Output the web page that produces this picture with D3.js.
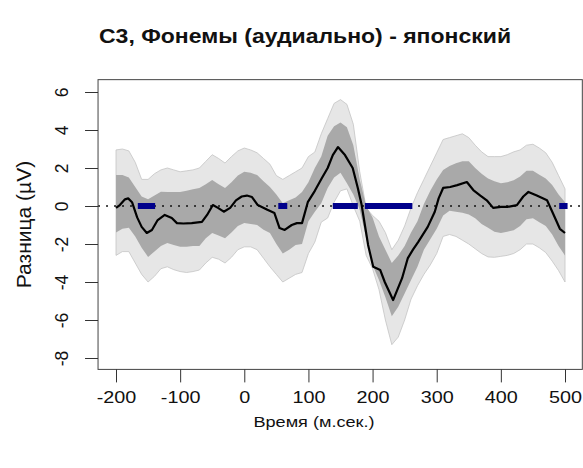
<!DOCTYPE html>
<html>
<head>
<meta charset="utf-8">
<script src="https://cdn.jsdelivr.net/npm/d3@7"></script>
<style>
  body { margin: 0; background: #fff; }
  text { font-family: "Liberation Sans", Arial, sans-serif; fill: #111; }
</style>
</head>
<body>
<div id="chart"></div>
<script>
// Mean difference curve (time in ms, value in µV)
const meanTime = [-200,-194,-186,-181,-175,-167,-160,-152,-144,-135,-124,-113,-105,-95,-82,-66,-58,-49,-41,-32,-22,-13,-4,4,12,21,36,47,55,63,74,82,90,99,110,121,130,138,146,157,169,177,183,188,193,201,212,219,232,246,255,263,271,286,297,303,310,321,332,347,357,368,378,388,400,410,425,435,443,456,472,481,492,500];
const meanValue = [-0.1,0.05,0.35,0.4,0.2,-0.6,-1.1,-1.42,-1.26,-0.74,-0.47,-0.63,-0.9,-0.92,-0.9,-0.84,-0.47,0.05,-0.1,-0.3,-0.1,0.3,0.5,0.55,0.47,0.05,-0.2,-0.37,-1.16,-1.26,-1.0,-0.9,-0.9,0.2,0.8,1.47,2.0,2.68,3.1,2.68,2.0,0.95,0.05,-1.0,-2.05,-3.2,-3.37,-4.0,-4.95,-3.8,-2.74,-2.3,-1.9,-1.1,-0.3,0.4,0.95,1.0,1.1,1.26,0.84,0.55,0.3,-0.1,-0.05,-0.05,0.05,0.5,0.74,0.55,0.3,-0.37,-1.2,-1.42];

// Confidence bands, sampled every 10 ms from -200 to 500
const bandTime = d3.range(-200, 501, 10);
const outerUpper = [2.95,3.0,2.9,2.3,1.4,1.4,1.7,1.9,2.0,1.9,1.8,1.85,1.9,2.0,2.35,2.7,2.5,2.26,2.6,2.9,3.05,2.95,2.8,2.5,2.2,1.6,1.4,1.6,1.8,2.0,2.6,2.84,3.8,4.6,5.4,5.6,5.35,4.3,1.8,-0.1,-0.5,-0.8,-1.4,-2.3,-1.8,-1.05,-0.1,0.7,1.4,2.1,2.8,3.5,3.6,3.7,3.8,3.6,3.2,2.85,2.6,2.6,2.6,2.7,2.85,2.95,3.2,3.25,3.05,2.8,2.3,1.6,0.9];
const outerLower = [-2.6,-2.4,-2.4,-3.0,-3.6,-4.0,-3.7,-3.3,-3.2,-3.35,-3.45,-3.5,-3.45,-3.37,-3.0,-2.7,-2.8,-3.0,-2.7,-2.3,-2.15,-2.15,-2.3,-2.75,-3.2,-3.6,-4.0,-3.8,-3.6,-3.5,-2.5,-1.9,-0.85,-0.63,0.2,0.8,0.9,0.0,-0.8,-2.6,-3.3,-4.4,-6.0,-7.3,-6.9,-6.0,-4.9,-4.2,-3.6,-3.1,-2.5,-1.6,-1.5,-1.6,-1.8,-2.0,-2.25,-2.5,-2.68,-2.7,-2.65,-2.6,-2.5,-2.3,-2.0,-2.0,-2.2,-2.45,-2.9,-3.4,-4.0];
const innerUpper = [1.63,1.63,1.5,1.0,0.5,0.35,0.55,0.75,0.74,0.74,0.74,0.8,0.88,0.95,1.15,1.37,1.15,0.95,1.25,1.6,1.8,1.75,1.63,1.3,1.0,0.6,0.15,0.3,0.45,0.74,1.25,2.0,2.6,3.7,4.2,4.4,4.15,3.2,1.4,0.0,-0.6,-1.6,-2.3,-3.0,-2.6,-2.1,-1.4,-0.8,0.1,0.8,1.4,1.9,2.1,2.25,2.35,2.35,2.0,1.7,1.45,1.3,1.2,1.25,1.35,1.55,1.85,1.85,1.65,1.45,1.1,0.6,0.2];
const innerLower = [-1.4,-1.2,-1.15,-1.6,-2.2,-2.68,-2.4,-2.1,-1.95,-2.05,-2.15,-2.15,-2.1,-2.1,-1.7,-1.42,-1.55,-1.7,-1.4,-1.05,-0.9,-0.95,-1.0,-1.25,-1.42,-2.0,-2.5,-2.3,-2.05,-2.0,-0.8,-0.3,0.15,0.95,1.5,1.75,1.2,0.6,-0.2,-1.7,-3.1,-3.9,-4.8,-5.8,-5.3,-4.6,-3.9,-3.2,-2.3,-1.75,-1.2,-0.5,-0.25,-0.3,-0.35,-0.45,-0.65,-0.95,-1.15,-1.35,-1.42,-1.35,-1.28,-1.05,-0.7,-0.65,-0.85,-1.05,-1.5,-2.1,-2.6];

// Significant windows (ms), marked on the zero line
const sigStart = [-166, 53, 138, 188, 491];
const sigEnd   = [-139, 67, 177, 262, 504];

const xTicks = [-200, -100, 0, 100, 200, 300, 400, 500];
const yTicks = [-8, -6, -4, -2, 0, 2, 4, 6];

const titleText = "С3, Фонемы (аудиально) - японский";
const xLabel = "Время (м.сек.)";
const yLabel = "Разница (µV)";

const width = 583, height = 468;

const svg = d3.select("#chart")
    .append("svg")
    .attr("width", width)
    .attr("height", height);

const x = d3.scaleLinear().domain([-200, 500]).range([116, 565]);
const y = d3.scaleLinear().domain([-8, 6]).range([358, 92]);

// plot box edges (R-style padded user range)
const boxL = x(-228), boxR = x(527), boxT = y(6.65), boxB = y(-8.6);

const bands = bandTime.map((t, i) => ({
    t, ou: outerUpper[i], ol: outerLower[i], iu: innerUpper[i], il: innerLower[i]
}));

const outerArea = d3.area().x(d => x(d.t)).y0(d => y(d.ol)).y1(d => y(d.ou));
const innerArea = d3.area().x(d => x(d.t)).y0(d => y(d.il)).y1(d => y(d.iu));

svg.append("path")
    .datum(bands)
    .attr("d", outerArea)
    .attr("fill", "#e6e6e6")
    .attr("stroke", "#c4c4c4")
    .attr("stroke-width", 0.8);

svg.append("path")
    .datum(bands)
    .attr("d", innerArea)
    .attr("fill", "#a9a9a9");

// zero line
svg.append("line")
    .attr("x1", boxL).attr("x2", boxR)
    .attr("y1", y(0)).attr("y2", y(0))
    .attr("stroke", "#111")
    .attr("stroke-width", 1.6)
    .attr("stroke-dasharray", "2,6");

const meanLine = d3.line().x(d => x(d[0])).y(d => y(d[1]));
svg.append("path")
    .datum(meanTime.map((t, i) => [t, meanValue[i]]))
    .attr("d", meanLine)
    .attr("fill", "none")
    .attr("stroke", "#000")
    .attr("stroke-width", 2.2)
    .attr("stroke-linejoin", "round");

svg.selectAll(".sig")
    .data(sigStart.map((s, i) => [s, sigEnd[i]]))
    .join("line")
    .attr("class", "sig")
    .attr("x1", d => x(d[0])).attr("x2", d => x(d[1]))
    .attr("y1", y(0)).attr("y2", y(0))
    .attr("stroke", "#00008b")
    .attr("stroke-width", 6);

// box
svg.append("rect")
    .attr("x", boxL).attr("y", boxT)
    .attr("width", boxR - boxL).attr("height", boxB - boxT)
    .attr("fill", "none")
    .attr("stroke", "#444")
    .attr("stroke-width", 1);

// plain hyphen minus, as in the original
const fmt = d => String(d);

// x axis
const xAxis = svg.append("g")
    .attr("transform", `translate(0,${boxB})`)
    .call(d3.axisBottom(x).tickValues(xTicks).tickSize(13).tickSizeOuter(0).tickFormat(fmt));
xAxis.select(".domain").remove();
xAxis.selectAll("line").attr("stroke", "#333");
xAxis.selectAll("text")
    .attr("y", 0)
    .attr("dy", 0)
    .attr("transform", "translate(0,34) scale(1.2,1)")
    .style("font-size", "16.5px")
    .style("font-family", "'Liberation Sans', Arial, sans-serif")
    .attr("fill", "#111");

// y axis
const yAxis = svg.append("g")
    .attr("transform", `translate(${boxL},0)`)
    .call(d3.axisLeft(y).tickValues(yTicks).tickSize(13).tickSizeOuter(0).tickFormat(fmt));
yAxis.select(".domain").remove();
yAxis.selectAll("line").attr("stroke", "#333");
yAxis.selectAll("text")
    .attr("x", 0).attr("y", 0).attr("dy", 0)
    .attr("text-anchor", "middle")
    .attr("transform", `translate(${68 - boxL},0) rotate(-90)`)
    .style("font-size", "17.5px")
    .style("font-family", "'Liberation Sans', Arial, sans-serif")
    .attr("fill", "#111");

// title and axis labels
svg.append("text")
    .attr("transform", "translate(305,43) scale(1.15,1)")
    .attr("text-anchor", "middle")
    .style("font-size", "20px")
    .style("font-weight", "bold")
    .text(titleText);

svg.append("text")
    .attr("transform", "translate(314,427) scale(1.25,1)")
    .attr("text-anchor", "middle")
    .style("font-size", "14.5px")
    .text(xLabel);

svg.append("text")
    .attr("transform", `translate(31,${(boxT + boxB) / 2}) rotate(-90)`)
    .attr("text-anchor", "middle")
    .style("font-size", "21px")
    .text(yLabel);
</script>
</body>
</html>
